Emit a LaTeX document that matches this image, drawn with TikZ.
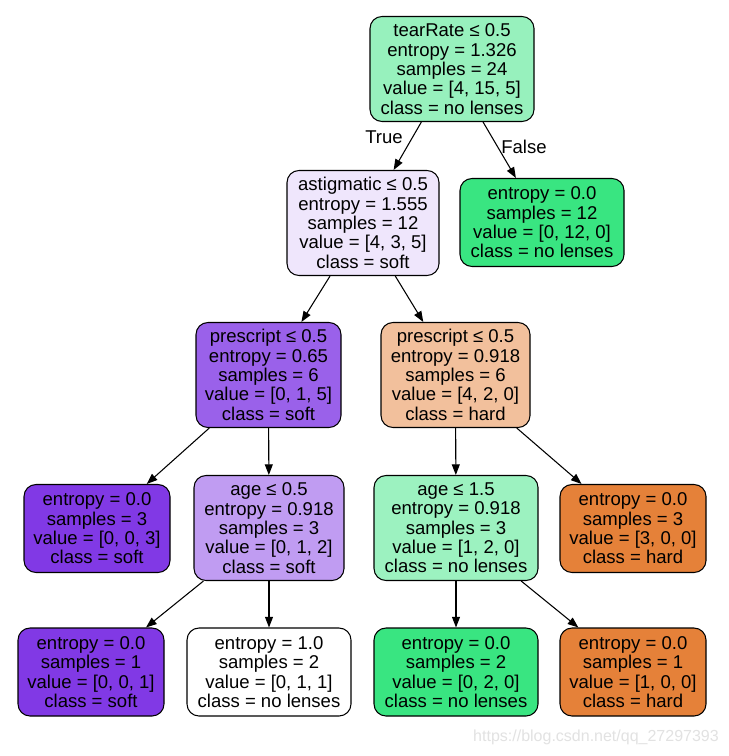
\documentclass[tikz,border=0pt]{standalone}
\usepackage{fontspec}
\setmainfont{Liberation Sans}
\usetikzlibrary{arrows.meta}

% Node fill colours (class colour blended with white by purity)
\definecolor{cRoot}{HTML}{97F1BD}
\definecolor{cAst}{HTML}{EFE6FC}
\definecolor{cGreen}{HTML}{39E581}
\definecolor{cPurpA}{HTML}{9A61EA}
\definecolor{cOrangeA}{HTML}{F2C09C}
\definecolor{cPurple}{HTML}{8139E5}
\definecolor{cPurpB}{HTML}{C09CF2}
\definecolor{cGreenB}{HTML}{9CF2C0}
\definecolor{cOrange}{HTML}{E58139}
\definecolor{cMark}{HTML}{E2E2E2}

\tikzset{
  treebox/.style={draw=black, line width=0.8pt, rounded corners=9pt,
    align=center, inner sep=0pt, font=\fontsize{13.9}{14.5}\selectfont,
    minimum height=105*0.75pt},
  leafbox/.style={treebox, minimum height=88*0.75pt},
  edge/.style={line width=0.8pt, -{Triangle[length=8pt, width=6pt]}},
  edgelabel/.style={font=\fontsize{13.9}{14.5}\selectfont, inner sep=0pt}
}

\begin{document}
\begin{tikzpicture}[x=0.75pt, y=-0.75pt]
  \useasboundingbox[fill=white] (0,0) rectangle (728,756);

  % level 0
  \node[treebox, fill=cRoot, minimum width=164*0.75pt] (root) at (452,69)
    {tearRate ≤ 0.5\\entropy = 1.326\\samples = 24\\value = [4, 15, 5]\\class = no lenses};

  % level 1
  \node[treebox, fill=cAst, minimum width=152*0.75pt] (ast) at (363,223)
    {astigmatic ≤ 0.5\\entropy = 1.555\\samples = 12\\value = [4, 3, 5]\\class = soft};
  \node[leafbox, fill=cGreen, minimum width=164*0.75pt] (nl12) at (542,222.5)
    {entropy = 0.0\\samples = 12\\value = [0, 12, 0]\\class = no lenses};

  % level 2
  \node[treebox, fill=cPurpA, minimum width=145*0.75pt] (presL) at (268.5,375)
    {prescript ≤ 0.5\\entropy = 0.65\\samples = 6\\value = [0, 1, 5]\\class = soft};
  \node[treebox, fill=cOrangeA, minimum width=149*0.75pt] (presR) at (455.5,375)
    {prescript ≤ 0.5\\entropy = 0.918\\samples = 6\\value = [4, 2, 0]\\class = hard};

  % level 3
  \node[leafbox, fill=cPurple, minimum width=146*0.75pt] (soft3) at (97,528.5)
    {entropy = 0.0\\samples = 3\\value = [0, 0, 3]\\class = soft};
  \node[treebox, fill=cPurpB, minimum width=150*0.75pt] (ageA) at (269,528)
    {age ≤ 0.5\\entropy = 0.918\\samples = 3\\value = [0, 1, 2]\\class = soft};
  \node[treebox, fill=cGreenB, minimum width=164*0.75pt] (ageB) at (456,528)
    {age ≤ 1.5\\entropy = 0.918\\samples = 3\\value = [1, 2, 0]\\class = no lenses};
  \node[leafbox, fill=cOrange, minimum width=146*0.75pt] (hard3) at (633,528.5)
    {entropy = 0.0\\samples = 3\\value = [3, 0, 0]\\class = hard};

  % level 4
  \node[leafbox, fill=cPurple, minimum width=146*0.75pt] (soft1) at (91,672)
    {entropy = 0.0\\samples = 1\\value = [0, 0, 1]\\class = soft};
  \node[leafbox, fill=white, minimum width=164*0.75pt] (mixed) at (269,672)
    {entropy = 1.0\\samples = 2\\value = [0, 1, 1]\\class = no lenses};
  \node[leafbox, fill=cGreen, minimum width=164*0.75pt] (nl2) at (456,672)
    {entropy = 0.0\\samples = 2\\value = [0, 2, 0]\\class = no lenses};
  \node[leafbox, fill=cOrange, minimum width=146*0.75pt] (hard1) at (633,672)
    {entropy = 0.0\\samples = 1\\value = [1, 0, 0]\\class = hard};

  % connectors
  \draw[edge] (root) -- (ast);
  \draw[edge] (root) -- (nl12);
  \draw[edge] (ast) -- (presL);
  \draw[edge] (ast) -- (presR);
  \draw[edge] (presL) -- (soft3);
  \draw[edge] (presL) -- (ageA);
  \draw[edge] (presR) -- (ageB);
  \draw[edge] (presR) -- (hard3);
  \draw[edge] (ageA) -- (soft1);
  \draw[edge] (ageA) -- (mixed);
  \draw[edge] (ageB) -- (nl2);
  \draw[edge] (ageB) -- (hard1);

  % branch labels
  \node[edgelabel] (lblTrue) at (384,137) {True};
  \node[edgelabel] (lblFalse) at (524,147) {False};

  % source mark
  \node[font=\fontsize{12}{14}\selectfont, text=cMark, inner sep=0pt] (mark) at (596,737)
    {https://blog.csdn.net/qq\_27297393};
\end{tikzpicture}
\end{document}
